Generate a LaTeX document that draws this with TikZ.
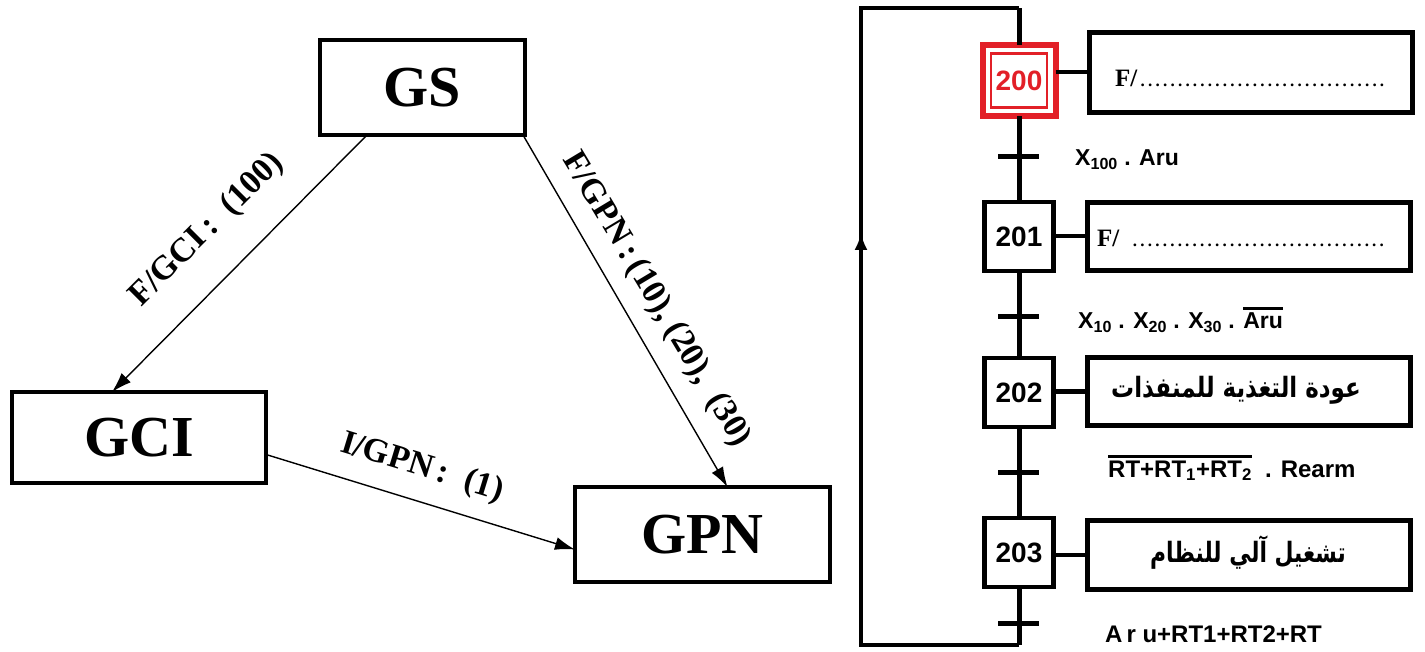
\documentclass[tikz,border=0pt]{standalone}
\usepackage{fontspec}
\usepackage{graphicx}
\setmainfont{Liberation Serif}
\newfontfamily\arialf{Liberation Sans}
\newfontfamily\arabicfont[Script=Arabic]{DejaVu Sans}
\TeXXeTstate=1
\usetikzlibrary{arrows.meta,calc}
\definecolor{redstep}{RGB}{226,32,40}
\newcommand\myobar[1]{\vbox{\hrule height 3pt\kern 2.5pt\hbox{#1}}}
\begin{document}
\begin{tikzpicture}[x=1pt,y=-1pt,
  bigbox/.style={draw, line width=4, outer sep=0, inner sep=0, font=\fontsize{58}{60}\selectfont\bfseries},
  flow/.style={line width=1.4, -{Latex[length=20,width=13]}},
  flowlbl/.style={font=\fontsize{34}{36}\selectfont\bfseries, inner sep=0},
  stepbox/.style={draw, line width=4.5, outer sep=0, inner sep=0, minimum width=69, minimum height=69, font=\arialf\bfseries\fontsize{28}{30}\selectfont},
  actbox/.style={draw, line width=5, outer sep=0, inner sep=0, minimum width=323},
  sfc/.style={line width=5},
  tick/.style={line width=5},
  tlbl/.style={anchor=west, inner sep=0, font=\arialf\bfseries\fontsize{23}{25}\selectfont},
  actlbl/.style={anchor=west, inner sep=0, font=\fontsize{25}{27}\selectfont\bfseries},
  arlbl/.style={inner sep=0, font=\arabicfont\bfseries\fontsize{28}{31}\selectfont},
]
\useasboundingbox (0,0) rectangle (1425,652);

% ---------- left diagram ----------
\node[bigbox, minimum width=205, minimum height=95] (GS) at (422.5,87.5) {GS};
\node[bigbox, minimum width=254, minimum height=91] (GCI) at (139,437.5) {GCI};
\node[bigbox, minimum width=255, minimum height=95] (GPN) at (702.5,534.5) {GPN};

\draw[flow] ([xshift=47]GS.south west) -- ([xshift=-27]GCI.north);
\draw[flow] ([xshift=-2]GS.south east) -- ([xshift=25]GPN.north);
\draw[flow] ([yshift=-17]GCI.east) -- ([yshift=-15]GPN.west);

\node[flowlbl, rotate=45] (l1) at (207,230) {F/GCI\,:\ \ (100)};
\node[flowlbl, rotate=-59] (l2) at (656,300) {F/GPN\,:\,(10), (20), \ (30)};
\node[flowlbl, rotate=-17] (l3) at (422,468) {I/GPN\,:\ \ (1)};

% ---------- SFC ----------
\node[stepbox, draw=redstep, text=redstep, line width=6, minimum width=73, minimum height=71] (s200) at (1019,80.5) {200};
\draw[redstep, line width=2.5] ($(s200.south west)+(8.5,-8.5)$) rectangle ($(s200.north east)+(-8.5,8.5)$);
\node[stepbox] (s201) at (1019,236.5) {201};
\node[stepbox] (s202) at (1019,392.5) {202};
\node[stepbox] (s203) at (1019,552.5) {203};

\node[actbox, minimum height=80] (a200) at (1251,72.5) {};
\node[actbox, minimum height=68] (a201) at (1249,236.5) {};
\node[actbox, minimum height=68] (a202) at (1249,391.5) {};
\node[actbox, minimum height=69] (a203) at (1249,555) {};

\draw[line width=4] (s200.east |- a200.west) -- (a200.west);
\draw[line width=4] (s201.east |- a201.west) -- (a201.west);
\draw[line width=4] (s202.east |- a202.west) -- (a202.west);
\draw[line width=4] (s203.east |- a203.west) -- (a203.west);

\node[actlbl] (f200) at (1115,78) {F/\fontsize{17}{20}\selectfont\makebox[250pt]{\dotfill}};
\node[actlbl] (f201) at (1097,238) {F/\hspace{10pt}\fontsize{17}{20}\selectfont\makebox[258pt]{\dotfill}};
\node[arlbl] (ar202) at (1236,390) {\scalebox{0.82}[1]{\beginR عودة التغذية للمنفذات\endR}};
\node[arlbl] (ar203) at (1248,553) {\scalebox{0.78}[1]{\beginR تشغيل آلي للنظام\endR}};

\coordinate (top) at (1019,8);
\coordinate (tl) at (861,8);
\coordinate (bl) at (861,645);
\coordinate (bot) at (1019,645);
\coordinate (arr) at (861,233);

\draw[sfc] (s200.north) -- (top);
\draw[line width=4.5, line join=miter] (top) -- (tl) -- (bl) -- (bot);
\draw[sfc] (s203.south) -- (bot);
\draw[line width=3, -{Latex[length=17,width=13]}] (bl) -- (arr);
\draw[sfc] (s200.south) -- (s201.north);
\draw[sfc] (s201.south) -- (s202.north);
\draw[sfc] (s202.south) -- (s203.north);

\coordinate (t1) at (1019,157);
\coordinate (t2) at (1019,317);
\coordinate (t3) at (1019,472);
\coordinate (t4) at (1019,623);
\foreach \t in {t1,t2,t3,t4} \draw[tick] ([xshift=-21]\t) -- ([xshift=20]\t);

\node[tlbl] (c1) at (1075,160) {X\textsubscript{100} . Aru};
\node[tlbl] (c2) at (1078,320) {X\textsubscript{10} . X\textsubscript{20} . X\textsubscript{30} . \myobar{Aru}};
\node[tlbl, font=\arialf\bfseries\fontsize{24}{26}\selectfont] (c3) at (1108,468) {\myobar{RT+RT\textsubscript{1}+RT\textsubscript{2}}\ \ . Rearm};
\node[tlbl, font=\arialf\bfseries\fontsize{24}{26}\selectfont] (c4) at (1105,634) {A\,r u+RT1+RT2+RT};
\end{tikzpicture}
\end{document}
